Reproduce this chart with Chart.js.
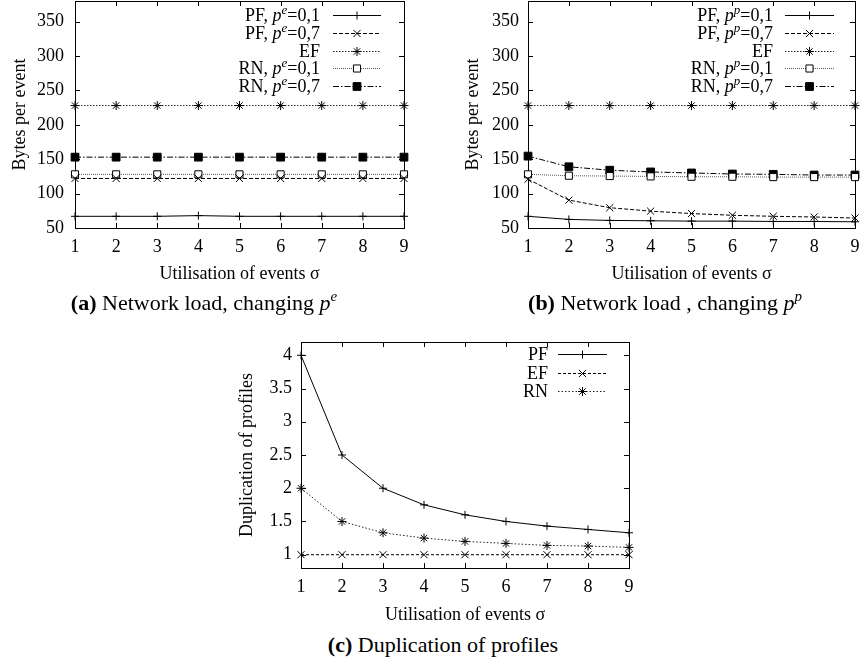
<!DOCTYPE html>
<html lang="en">
<head>
<meta charset="utf-8"/>
<title>Network load and duplication of profiles</title>
<script src="https://cdn.jsdelivr.net/npm/chart.js"></script>
<style>
    body { margin: 0; background: #fff; width: 862px; height: 661px; position: relative; overflow: hidden;
           font-family: "Liberation Serif", "DejaVu Serif", serif; color: #000; }
    canvas { position: absolute; }
    .cap { position: absolute; font-size: 22px; white-space: nowrap; transform: translate(-50%, -50%); line-height: 1; }
    .cap .sup { font-size: 15px; font-style: italic; position: relative; top: -9px; }
</style>
</head>
<body>
<canvas id="chartA" width="431" height="290" style="left:0;top:0"></canvas>
<canvas id="chartB" width="431" height="290" style="left:431px;top:0"></canvas>
<canvas id="chartC" width="431" height="300" style="left:220px;top:330px"></canvas>

<div class="cap" style="left:204px;top:303px"><b>(a)</b> Network load, changing <i>p</i><span class="sup">e</span></div>
<div class="cap" style="left:665px;top:303px"><b>(b)</b> Network load , changing <i>p</i><span class="sup">p</span></div>
<div class="cap" style="left:443px;top:645px"><b>(c)</b> Duplication of profiles</div>

<script>
    // x values (utilisation of events sigma)
    const sigma = [1, 2, 3, 4, 5, 6, 7, 8, 9];

    // (a) network load, changing p^e
    const labelsA = ['PF, p^e=0,1', 'PF, p^e=0,7', 'EF', 'RN, p^e=0,1', 'RN, p^e=0,7'];
    const a_pf01 = [67, 67, 67, 68, 67, 67, 67, 67, 67];
    const a_pf07 = [122, 122, 122, 122, 122, 122, 122, 122, 122];
    const a_ef   = [228, 228, 228, 228, 228, 228, 228, 228, 228];
    const a_rn01 = [128, 128, 128, 128, 128, 128, 128, 128, 128];
    const a_rn07 = [153, 153, 153, 153, 153, 153, 153, 153, 153];

    // (b) network load, changing p^p
    const labelsB = ['PF, p^p=0,1', 'PF, p^p=0,7', 'EF', 'RN, p^p=0,1', 'RN, p^p=0,7'];
    const b_pf01 = [67, 62.5, 61, 60.5, 60, 60, 59.5, 59.5, 59];
    const b_pf07 = [121, 90.5, 79.5, 74.5, 71, 68.5, 67, 66, 64.5];
    const b_ef   = [228, 228, 228, 228, 228, 228, 228, 228, 228];
    const b_rn01 = [128, 126, 125.5, 125, 124.5, 124.5, 124, 124, 124];
    const b_rn07 = [154.5, 139, 134, 131.5, 130, 128.5, 128, 127, 127];

    // (c) duplication of profiles
    const labelsC = ['PF', 'EF', 'RN'];
    const c_pf = [4, 2.5, 2, 1.75, 1.6, 1.5, 1.43, 1.38, 1.33];
    const c_ef = [1, 1, 1, 1, 1, 1, 1, 1, 1];
    const c_rn = [2, 1.5, 1.33, 1.25, 1.2, 1.17, 1.14, 1.13, 1.11];

    const yTicksNet = [50, 100, 150, 200, 250, 300, 350];
    const yTicksDup = [1, 1.5, 2, 2.5, 3, 3.5, 4];

    const FAMILY = '"Liberation Serif", "DejaVu Serif", serif';
    const F = '18px ' + FAMILY;

    // gnuplot-ish line/point styles
    const sPlus   = { dash: [], point: 'cross', r: 4, fill: '#000', color: '#000' };
    const sCross  = { dash: [4, 2], point: 'crossRot', r: 5, fill: '#000', color: '#000' };
    const sStar   = { dash: [1.5, 1.5], point: 'star', r: 4.5, fill: '#000', color: '#222' };
    const sOpenSq = { dash: [1, 1], point: 'rect', r: 5, fill: '#fff', color: '#555' };
    const sFillSq = { dash: [6, 2, 1.5, 2], point: 'rect', r: 5.5, fill: '#000', color: '#000' };

    function drawMark(ctx, style, x, y, r, fill) {
        ctx.beginPath();
        ctx.strokeStyle = '#000';
        ctx.lineWidth = 1;
        if (style === 'cross' || style === 'star') {
            ctx.moveTo(x - r, y); ctx.lineTo(x + r, y);
            ctx.moveTo(x, y - r); ctx.lineTo(x, y + r);
        }
        if (style === 'crossRot' || style === 'star') {
            const d = r * Math.SQRT1_2;
            ctx.moveTo(x - d, y - d); ctx.lineTo(x + d, y + d);
            ctx.moveTo(x - d, y + d); ctx.lineTo(x + d, y - d);
        }
        if (style === 'rect') {
            const s = r * Math.SQRT1_2;
            ctx.rect(x - s, y - s, 2 * s, 2 * s);
            ctx.fillStyle = fill;
            ctx.fill();
        }
        ctx.stroke();
    }

    // right aligned text, "p^e" gets italic p with superscript
    function drawRich(ctx, text, right, y) {
        const m = text.match(/^(.*?)p\^(\w)(.*)$/);
        const parts = m
            ? [[m[1], F, 0], ['p', 'italic ' + F, 0], [m[2], 'italic 13px ' + FAMILY, -7], [m[3], F, 0]]
            : [[text, F, 0]];
        let total = 0;
        parts.forEach(p => { ctx.font = p[1]; p.push(ctx.measureText(p[0]).width); total += p[3]; });
        let x = right - total;
        ctx.fillStyle = '#000';
        ctx.textBaseline = 'alphabetic';
        ctx.textAlign = 'left';
        parts.forEach(p => {
            ctx.font = p[1];
            ctx.fillText(p[0], x, y + 6 + p[2]);
            x += p[3];
        });
    }

    const gpLegend = {
        id: 'gpLegend',
        afterDraw(chart, args, opts) {
            const ctx = chart.ctx;
            ctx.save();
            chart.data.datasets.forEach((ds, i) => {
                const y = opts.top + i * opts.step;
                drawRich(ctx, ds.label, opts.textRight, y);
                ctx.strokeStyle = ds.borderColor;
                ctx.lineWidth = 1;
                ctx.setLineDash(ds.borderDash);
                ctx.beginPath();
                ctx.moveTo(opts.x0, Math.round(y) + 0.5);
                ctx.lineTo(opts.x1, Math.round(y) + 0.5);
                ctx.stroke();
                ctx.setLineDash([]);
                drawMark(ctx, ds.pointStyle, (opts.x0 + opts.x1) / 2, Math.round(y) + 0.5, ds.pointRadius, ds.pointBackgroundColor);
            });
            ctx.restore();
        }
    };

    // frame with inward, mirrored tics
    const gpFrame = {
        id: 'gpFrame',
        beforeDatasetsDraw(chart) {
            const { ctx, chartArea: a, scales: { x, y } } = chart;
            const L = 5;
            ctx.save();
            ctx.strokeStyle = '#000';
            ctx.lineWidth = 1;
            ctx.beginPath();
            x.ticks.forEach(t => {
                const px = Math.round(x.getPixelForValue(t.value)) + 0.5;
                ctx.moveTo(px, a.bottom); ctx.lineTo(px, a.bottom - L);
                ctx.moveTo(px, a.top); ctx.lineTo(px, a.top + L);
            });
            y.ticks.forEach(t => {
                const py = Math.round(y.getPixelForValue(t.value)) + 0.5;
                ctx.moveTo(a.left, py); ctx.lineTo(a.left + L, py);
                ctx.moveTo(a.right, py); ctx.lineTo(a.right - L, py);
            });
            ctx.stroke();
            ctx.strokeRect(Math.round(a.left) + 0.5, Math.round(a.top) + 0.5,
                Math.round(a.right - a.left), Math.round(a.bottom - a.top));
            ctx.restore();
        }
    };

    function makeChart(id, cfg) {
        const datasets = cfg.series.map((vals, i) => {
            const st = cfg.styles[i];
            return {
                label: cfg.labels[i],
                data: sigma.map((s, j) => ({ x: s, y: vals[j] })),
                borderColor: st.color,
                borderWidth: 1,
                borderDash: st.dash,
                pointStyle: st.point,
                pointRadius: st.r,
                pointBorderWidth: 1,
                pointBorderColor: '#000',
                pointBackgroundColor: st.fill,
                tension: 0,
                fill: false,
                clip: false
            };
        });
        return new Chart(document.getElementById(id), {
            type: 'line',
            data: { datasets },
            options: {
                responsive: false,
                animation: false,
                devicePixelRatio: 1,
                layout: { padding: cfg.pad, autoPadding: false },
                plugins: {
                    legend: { display: false },
                    tooltip: { enabled: false },
                    gpLegend: cfg.legend
                },
                scales: {
                    x: {
                        type: 'linear', min: 1, max: 9,
                        afterBuildTicks: s => { s.ticks = sigma.map(v => ({ value: v })); },
                        afterFit: s => { s.height = cfg.xH; s.paddingLeft = 0; s.paddingRight = 0; },
                        grid: { display: false, drawTicks: false },
                        border: { display: false },
                        ticks: { color: '#000', font: { family: FAMILY, size: 18 }, padding: 8, maxRotation: 0 },
                        title: { display: true, text: 'Utilisation of events σ', color: '#000',
                                 font: { family: FAMILY, size: 18 }, padding: { top: 0, bottom: cfg.xTitlePad } }
                    },
                    y: {
                        type: 'linear', min: cfg.yMin, max: cfg.yMax,
                        afterBuildTicks: s => { s.ticks = cfg.yTicks.map(v => ({ value: v })); },
                        afterFit: s => { s.width = cfg.yW; s.paddingTop = 0; s.paddingBottom = 0; },
                        grid: { display: false, drawTicks: false },
                        border: { display: false },
                        ticks: { color: '#000', font: { family: FAMILY, size: 18 }, padding: cfg.yTickPad,
                                 callback: v => String(v) },
                        title: { display: true, text: cfg.yTitle, color: '#000',
                                 font: { family: FAMILY, size: 18 }, padding: { top: cfg.yTitlePad, bottom: 0 } }
                    }
                }
            },
            plugins: [gpFrame, gpLegend]
        });
    }

    makeChart('chartA', {
        labels: labelsA,
        series: [a_pf01, a_pf07, a_ef, a_rn01, a_rn07],
        styles: [sPlus, sCross, sStar, sOpenSq, sFillSq],
        pad: { left: 0, right: 27, top: 1, bottom: 0 },
        xH: 62, xTitlePad: 5, yW: 75, yTickPad: 11, yTitlePad: 9,
        yMin: 50, yMax: 380, yTicks: yTicksNet, yTitle: 'Bytes per event',
        legend: { textRight: 320, x0: 333, x1: 381, top: 15, step: 17.75 }
    });

    makeChart('chartB', {
        labels: labelsB,
        series: [b_pf01, b_pf07, b_ef, b_rn01, b_rn07],
        styles: [sPlus, sCross, sStar, sOpenSq, sFillSq],
        pad: { left: 0, right: 7, top: 1, bottom: 0 },
        xH: 62, xTitlePad: 5, yW: 97, yTickPad: 9, yTitlePad: 31,
        yMin: 50, yMax: 380, yTicks: yTicksNet, yTitle: 'Bytes per event',
        legend: { textRight: 342, x0: 354, x1: 403, top: 15, step: 17.75 }
    });

    makeChart('chartC', {
        labels: labelsC,
        series: [c_pf, c_ef, c_rn],
        styles: [
            { dash: [], point: 'cross', r: 4, fill: '#000', color: '#000' },
            { dash: [3, 2], point: 'crossRot', r: 5, fill: '#000', color: '#000' },
            { dash: [1.5, 2], point: 'star', r: 4.5, fill: '#000', color: '#222' }
        ],
        pad: { left: 0, right: 22, top: 12, bottom: 0 },
        xH: 62, xTitlePad: 4, yW: 81, yTickPad: 9, yTitlePad: 16,
        yMin: 0.8, yMax: 4.2, yTicks: yTicksDup, yTitle: 'Duplication of profiles',
        legend: { textRight: 328, x0: 338, x1: 387, top: 24.3, step: 18.2 }
    });
</script>
</body>
</html>
